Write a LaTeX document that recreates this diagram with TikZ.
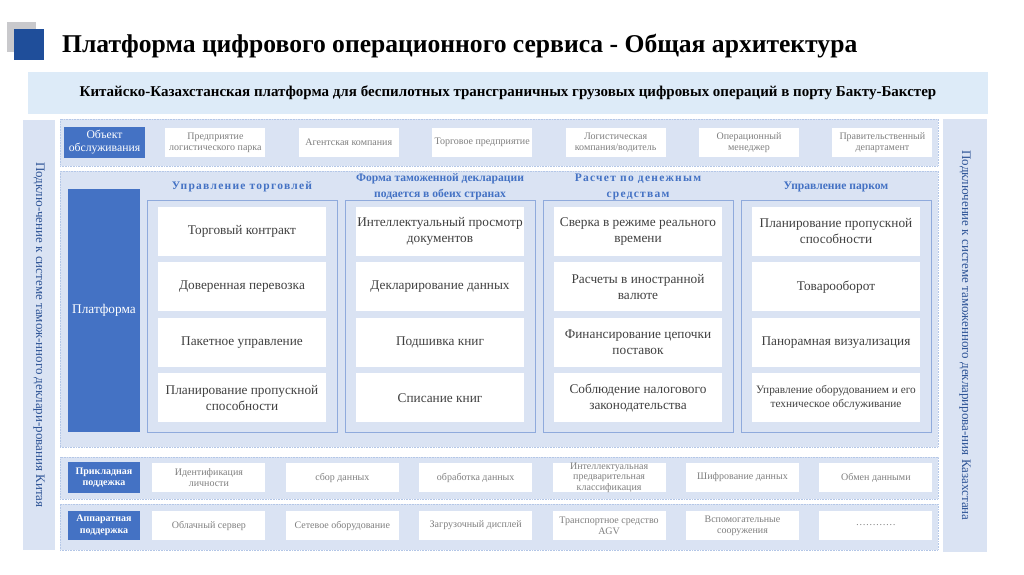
\documentclass[tikz,border=0pt]{standalone}
\usepackage{fontspec}
\setmainfont{Liberation Serif}
\newfontfamily\spacedfont[LetterSpace=11]{Liberation Serif}
\usetikzlibrary{positioning}

\definecolor{tagblue}{HTML}{4472C4}
\definecolor{panelbg}{HTML}{DAE3F3}
\definecolor{bannerbg}{HTML}{DDEBF8}
\definecolor{framebl}{HTML}{8FAADC}
\definecolor{dotbl}{HTML}{B4C7E7}
\definecolor{sidetxt}{HTML}{2F5597}
\definecolor{itemgray}{HTML}{7F7F7F}
\definecolor{celltxt}{HTML}{404040}
\definecolor{squareblue}{HTML}{1F4E9A}
\definecolor{squaregray}{HTML}{C9C9CC}

\tikzset{
  layer/.style={fill=panelbg, draw=dotbl, densely dotted, line width=0.6pt},
  sidebar/.style={fill=panelbg, draw=none},
  sidetext/.style={rotate=-90, text=sidetxt, font=\fontsize{13}{15}\selectfont},
  tag/.style={fill=tagblue, text=white, align=center, inner sep=1pt,
    minimum width=72pt, minimum height=30pt, font=\bfseries\fontsize{10}{11.5}\selectfont},
  item/.style={fill=white, text=itemgray, align=center, inner sep=0pt,
    minimum width=100pt, minimum height=29pt, font=\fontsize{10}{11}\selectfont},
  wideitem/.style={item, minimum width=113pt},
  group/.style={draw=framebl, line width=0.8pt, minimum width=190pt, minimum height=232pt},
  grouptitle/.style={text=tagblue, align=center, font=\spacedfont\bfseries\fontsize{11.5}{16}\selectfont},
  cell/.style={fill=white, text=celltxt, align=center, inner sep=0pt,
    minimum width=168pt, minimum height=49pt, font=\fontsize{13.3}{16}\selectfont}
}

\begin{document}
\begin{tikzpicture}[x=1pt, y=-1pt, node distance=6pt]
  \useasboundingbox (0,0) rectangle (1024,574);

  % header
  \fill[squaregray] (7,22) rectangle (36,52);
  \fill[squareblue] (14,29) rectangle (44,60);
  \node (title) [anchor=base west, inner sep=0pt, font=\bfseries\fontsize{25.6}{30}\selectfont] at (62,52)
    {Платформа цифрового операционного сервиса - Общая архитектура};
  \node (banner) [fill=bannerbg, minimum width=960pt, minimum height=42pt,
    font=\bfseries\fontsize{15}{17}\selectfont] at (508,93)
    {Китайско-Казахстанская платформа для беспилотных трансграничных грузовых цифровых операций в порту Бакту-Бакстер};

  % side panels
  \node (leftbar) [sidebar, minimum width=32pt, minimum height=430pt] at (39,335) {};
  \node [sidetext] at (leftbar.center)
    {Подклю-чение к системе тамож-нного деклари-рования Китая};
  \node (rightbar) [sidebar, minimum width=44pt, minimum height=433pt] at (965,335.5) {};
  \node [sidetext] at (rightbar.center)
    {Подключение к системе таможенного декларирова-ния Казахстана};

  % service objects
  \node (objrow) [layer, minimum width=878pt, minimum height=47pt] at (499,142.5) {};
  \node (obj) [tag, minimum width=81pt, minimum height=31pt, font=\fontsize{11.7}{13}\selectfont] at (104.5,142.5)
    {Объект\\обслуживания};
  \node (o1) [item, right=20pt of obj] {Предприятие\\логистического парка};
  \node (o2) [item, right=33pt of o1] {Агентская компания};
  \node (o3) [item, right=33pt of o2] {Торговое предприятие};
  \node (o4) [item, right=33pt of o3] {Логистическая\\компания/водитель};
  \node (o5) [item, right=33pt of o4] {Операционный\\менеджер};
  \node (o6) [item, right=33pt of o5] {Правительственный\\департамент};

  % platform
  \node (platrow) [layer, minimum width=878pt, minimum height=276pt] at (499,309) {};
  \node (plat) [tag, minimum height=243pt, font=\fontsize{13.3}{15}\selectfont] at (104,310.5) {Платформа};

  \node (g1) [group] at (242,316) {};
  \node (g2) [group] at (440,316) {};
  \node (g3) [group] at (638,316) {};
  \node (g4) [group] at (836,316) {};
  \node [grouptitle] at (242,187) {Управление торговлей};
  \node [grouptitle, font=\bfseries\fontsize{11.6}{16}\selectfont] at (440,186.5)
    {Форма таможенной декларации\\подается в обеих странах};
  \node [grouptitle] at (638,186.5) {Расчет по денежным\\средствам};
  \node [grouptitle, font=\bfseries\fontsize{11.6}{16}\selectfont] at (836,187) {Управление парком};

  \node (c11) [cell] at (242,231.5) {Торговый контракт};
  \node (c12) [cell, below=of c11] {Доверенная перевозка};
  \node (c13) [cell, below=of c12] {Пакетное управление};
  \node (c14) [cell, below=of c13] {Планирование пропускной\\способности};

  \node (c21) [cell] at (440,231.5) {Интеллектуальный просмотр\\документов};
  \node (c22) [cell, below=of c21] {Декларирование данных};
  \node (c23) [cell, below=of c22] {Подшивка книг};
  \node (c24) [cell, below=of c23] {Списание книг};

  \node (c31) [cell] at (638,231.5) {Сверка в режиме реального\\времени};
  \node (c32) [cell, below=of c31] {Расчеты в иностранной\\валюте};
  \node (c33) [cell, below=of c32] {Финансирование цепочки\\поставок};
  \node (c34) [cell, below=of c33] {Соблюдение налогового\\законодательства};

  \node (c41) [cell] at (836,231.5) {Планирование пропускной\\способности};
  \node (c42) [cell, below=of c41] {Товарооборот};
  \node (c43) [cell, below=of c42] {Панорамная визуализация};
  \node (c44) [cell, below=of c43, font=\fontsize{11.3}{14}\selectfont]
    {Управление оборудованием и его\\техническое обслуживание};

  % application support
  \node (approw) [layer, minimum width=878pt, minimum height=42pt] at (499,478) {};
  \node (app) [tag, minimum height=31pt] at (104,477.5) {Прикладная\\поддежка};
  \node (a1) [wideitem, right=12pt of app] {Идентификация\\личности};
  \node (a2) [wideitem, right=20pt of a1] {сбор данных};
  \node (a3) [wideitem, right=20pt of a2] {обработка данных};
  \node (a4) [wideitem, right=20pt of a3, font=\fontsize{10}{10.5}\selectfont]
    {Интеллектуальная\\предварительная\\классификация};
  \node (a5) [wideitem, right=20pt of a4] {Шифрование данных};
  \node (a6) [wideitem, right=20pt of a5] {Обмен данными};

  % hardware support
  \node (hwrow) [layer, minimum width=878pt, minimum height=46pt] at (499,527) {};
  \node (hw) [tag, minimum height=29pt] at (104,525.5) {Аппаратная\\поддержка};
  \node (h1) [wideitem, right=12pt of hw] {Облачный сервер};
  \node (h2) [wideitem, right=20pt of h1] {Сетевое оборудование};
  \node (h3) [wideitem, right=20pt of h2] {Загрузочный дисплей};
  \node (h4) [wideitem, right=20pt of h3] {Транспортное средство\\AGV};
  \node (h5) [wideitem, right=20pt of h4] {Вспомогательные\\сооружения};
  \node (h6) [wideitem, right=20pt of h5] {…………};
\end{tikzpicture}
\end{document}
